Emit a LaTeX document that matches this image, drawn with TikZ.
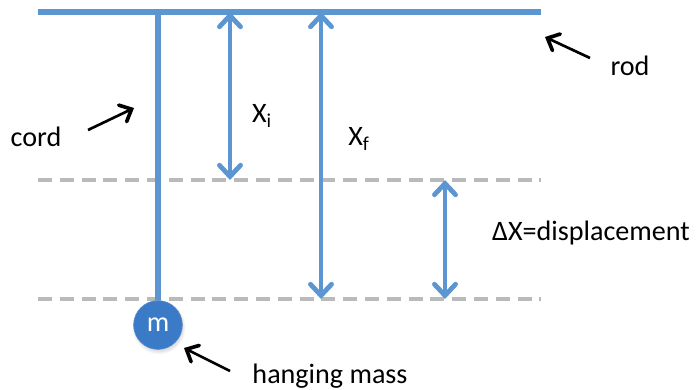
\documentclass[tikz,border=0pt]{standalone}
\usepackage{fontspec}
\setmainfont{Carlito}
\usetikzlibrary{arrows.meta, positioning, shadows}
\definecolor{lineblue}{RGB}{91,149,210}
\definecolor{massblue}{RGB}{58,122,198}
\definecolor{dashgray}{RGB}{186,186,186}

\begin{document}
\begin{tikzpicture}[
  x=0.025cm, y=-0.025cm,
  lbl/.style={font=\fontsize{20}{24}\selectfont, inner sep=0pt},
  bar/.style={line width=3.6pt, lineblue},
  level/.style={line width=3.3pt, dashgray, dash pattern=on 10pt off 5.5pt},
  meas/.style={line width=3.4pt, lineblue,
               {Straight Barb[length=8pt,width=15pt,line cap=round]}-{Straight Barb[length=8pt,width=15pt,line cap=round]}},
  ptr/.style={-{Straight Barb[length=7pt,width=13pt,line cap=round,line width=2.6pt]}, line width=1.9pt, black},
]
  \useasboundingbox (0,0) rectangle (698,389);

  % rod and levels
  \coordinate (rodL) at (38,12);
  \coordinate (rodR) at (541,12);
  \coordinate (startL) at (38,180);
  \coordinate (startR) at (541,180);
  \coordinate (endL) at (38,299);
  \coordinate (endR) at (541,299);
  \draw[level] (startL) -- (startR);
  \draw[level] (endL) -- (endR);
  \draw[bar] (rodL) -- (rodR);

  % cord and mass
  \node[circle, minimum size=1.22cm, inner sep=0pt, fill=massblue, draw=massblue!85!white,
        circular drop shadow={opacity=0.25, shadow xshift=0.5pt, shadow yshift=-1.5pt},
        text=white, lbl] (mass) at (158,325) {m};
  \draw[bar] (mass.north |- rodL) -- (mass.north);

  % measurements
  \coordinate (xiTop) at (230,12);
  \coordinate (xiBot) at (230,180);
  \coordinate (xfTop) at (321,12);
  \coordinate (xfBot) at (321,299);
  \coordinate (dxTop) at (445,180);
  \coordinate (dxBot) at (445,299);
  \draw[meas] (xiTop) -- (xiBot);
  \draw[meas] (xfTop) -- (xfBot);
  \draw[meas] (dxTop) -- (dxBot);
  \node[lbl] (xi) at (262,116) {X\textsubscript{i}};
  \node[lbl] (xf) at (359,139) {X\textsubscript{f}};
  \node[lbl] (dx) at (591,233) {ΔX=displacement};

  % labels with pointers
  \node[lbl] (cord) at (36,137) {cord};
  \coordinate (cordTail) at (88,130);
  \coordinate (cordTip) at (134,108);
  \draw[ptr] (cordTail) -- (cordTip);

  \node[lbl] (rod) at (630,66) {rod};
  \coordinate (rodTail) at (590,58);
  \coordinate (rodTip) at (545,37);
  \draw[ptr] (rodTail) -- (rodTip);

  \node[lbl] (hang) at (330,376) {hanging mass};
  \coordinate (hangTail) at (230,371);
  \coordinate (hangTip) at (184,348);
  \draw[ptr] (hangTail) -- (hangTip);
\end{tikzpicture}
\end{document}
